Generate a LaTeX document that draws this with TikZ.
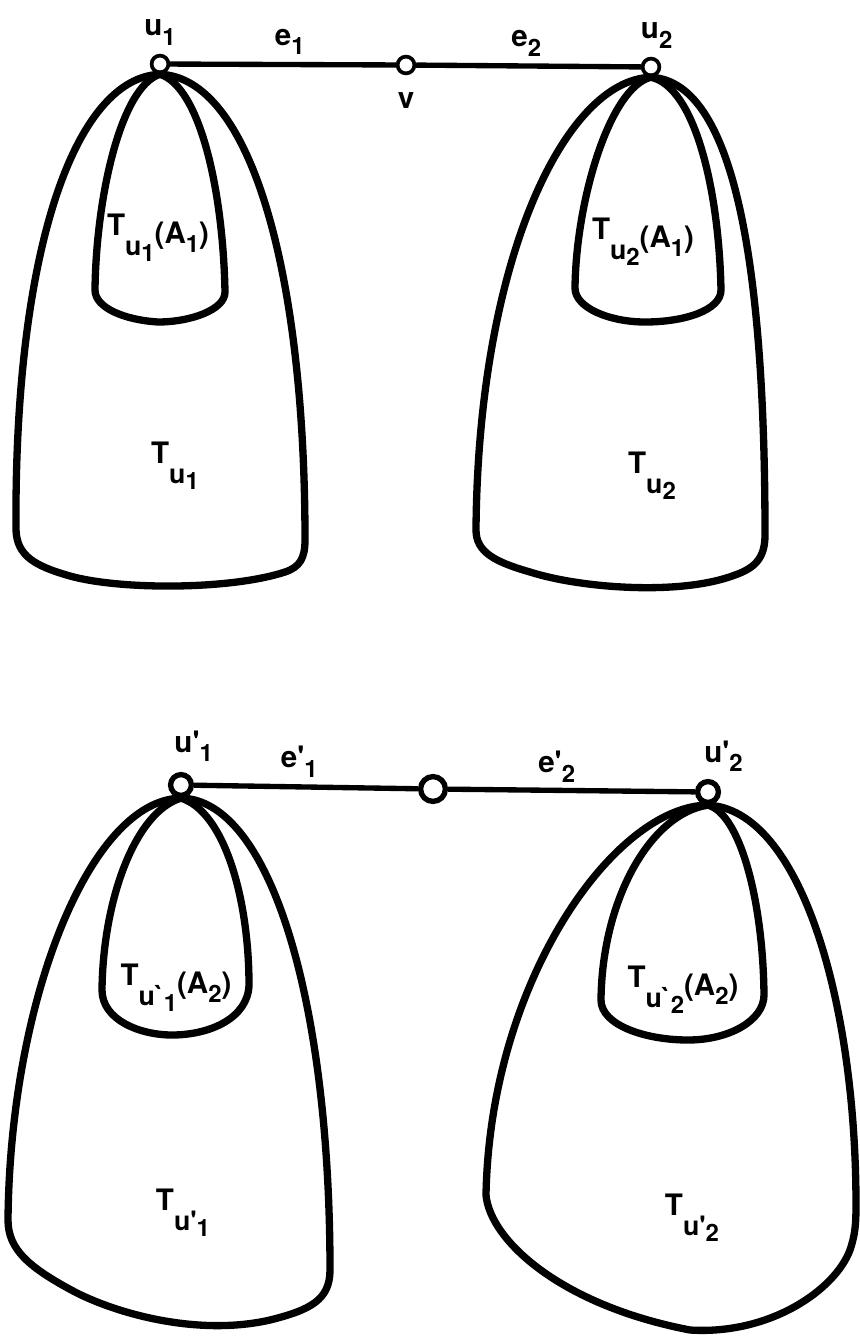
\documentclass[tikz,border=0pt]{standalone}
\usepackage{fontspec}
\setmainfont{TeX Gyre Heros}
\usepackage{tikz}
\usetikzlibrary{positioning}
\newcommand{\dn}[1]{\raisebox{-0.6ex}{\fontsize{17}{17}\selectfont #1}}
\newcommand{\lo}[1]{\raisebox{-1.2ex}{\fontsize{19}{19}\selectfont #1}}
\newcommand{\llo}[1]{\raisebox{-0.45ex}{\fontsize{17}{17}\selectfont #1}}
\newcommand{\inset}[1]{\raisebox{-0.45ex}{#1}}
\newcommand{\pr}{\textquotesingle}
\newcommand{\gr}{\textasciigrave}
\tikzset{vertex/.style={circle,draw,fill=white,line width=2.6pt,minimum size=4.2mm,inner sep=0pt},
  bigvertex/.style={vertex,line width=3.8pt,minimum size=5.2mm},
  edge/.style={line width=3.8pt},
  outline/.style={line width=5.2pt,line join=round},
  lbl/.style={font=\fontsize{21}{24}\selectfont\bfseries,inner sep=1pt}}

\begin{document}
\begin{tikzpicture}[x=0.025cm,y=-0.025cm,node distance=5pt]
\useasboundingbox (0,0) rectangle (860,1344);
\node[vertex] (u1) at (160,64) {};
\node[vertex] (v) at (406,65) {};
\node[vertex] (u2) at (651,67) {};
\node[lbl,above=of u1] {u\dn{1}};
\node[lbl,below=11pt of v] {v};
\node[lbl,above=of u2,xshift=4pt] {u\dn{2}};
\draw[edge] (u1) -- node[lbl,above=4pt,pos=0.53] {e\dn{1}} (v);
\draw[edge] (v) -- node[lbl,above=4pt,pos=0.49] {e\dn{2}} (u2);

\draw[outline] (u1.south) .. controls (75,78) and (14,250) .. (16,530)
  .. controls (17,556) and (35,566) .. (70,576)
  .. controls (120,590) and (230,590) .. (285,572)
  .. controls (300,567) and (305,558) .. (305,540)
  .. controls (305,270) and (250,78) .. (u1.south);
\draw[outline] (u1.south) .. controls (120,87) and (96,200) .. (95,290)
  .. controls (95,308) and (125,320) .. (158,322)
  .. controls (190,322) and (225,310) .. (225,292)
  .. controls (223,190) and (200,87) .. (u1.south);
\node[lbl] (tu1a) at (158,238) {T\lo{u\llo{1}}\inset{(A\dn{1})}};
\node[lbl] (tu1) at (175,466) {T\lo{u\llo{1}}};

\draw[outline] (u2.south) .. controls (565,80) and (478,260) .. (476,530)
  .. controls (476,552) and (495,562) .. (530,572)
  .. controls (580,588) and (680,596) .. (735,575)
  .. controls (755,568) and (765,558) .. (765,535)
  .. controls (765,290) and (740,82) .. (u2.south);
\draw[outline] (u2.south) .. controls (610,87) and (576,200) .. (575,288)
  .. controls (575,308) and (610,322) .. (645,322)
  .. controls (685,322) and (721,310) .. (721,290)
  .. controls (719,190) and (695,87) .. (u2.south);
\node[lbl] (tu2a) at (643,242) {T\lo{u\llo{2}}\inset{(A\dn{1})}};
\node[lbl] (tu2) at (652,476) {T\lo{u\llo{2}}};

\node[bigvertex] (p1) at (181,785) {};
\node[bigvertex,minimum size=6.2mm] (w) at (433,789) {};
\node[bigvertex] (p2) at (708,792) {};
\node[lbl,above=6pt of p1,xshift=9pt] {u\pr\dn{1}};
\node[lbl,above=4pt of p2,xshift=11pt] {u\pr\dn{2}};
\draw[edge] (p1) -- node[lbl,above=4pt,pos=0.47] {e\pr\dn{1}} (w);
\draw[edge] (w) -- node[lbl,above=3pt,pos=0.44] {e\pr\dn{2}} (p2);

\draw[outline] (p1.south) .. controls (90,800) and (10,1000) .. (8,1220)
  .. controls (8,1250) and (30,1268) .. (75,1292)
  .. controls (120,1315) and (200,1336) .. (270,1320)
  .. controls (310,1310) and (330,1300) .. (330,1270)
  .. controls (330,1000) and (270,800) .. (p1.south);
\draw[outline] (p1.south) .. controls (135,812) and (103,900) .. (102,990)
  .. controls (102,1020) and (140,1035) .. (172,1035)
  .. controls (210,1035) and (248,1018) .. (249,985)
  .. controls (249,900) and (225,812) .. (p1.south);
\node[lbl] (tp1a) at (176,988) {T\lo{u\gr\llo{1}}\inset{(A\dn{2})}};
\node[lbl] (tp1) at (183,1213) {T\lo{u\pr\llo{1}}};

\draw[outline] (p2.south) .. controls (615,806) and (490,980) .. (486,1195)
  .. controls (490,1240) and (560,1305) .. (690,1330)
  .. controls (770,1335) and (835,1290) .. (850,1250)
  .. controls (855,1235) and (856,1225) .. (856,1205)
  .. controls (856,1000) and (800,810) .. (p2.south);
\draw[outline] (p2.south) .. controls (650,814) and (602,900) .. (601,1000)
  .. controls (601,1025) and (645,1040) .. (688,1040)
  .. controls (730,1040) and (764,1020) .. (764,995)
  .. controls (763,900) and (740,814) .. (p2.south);
\node[lbl] (tp2a) at (683,990) {T\lo{u\gr\llo{2}}\inset{(A\dn{2})}};
\node[lbl] (tp2) at (692,1218) {T\lo{u\pr\llo{2}}};
\end{tikzpicture}
\end{document}
